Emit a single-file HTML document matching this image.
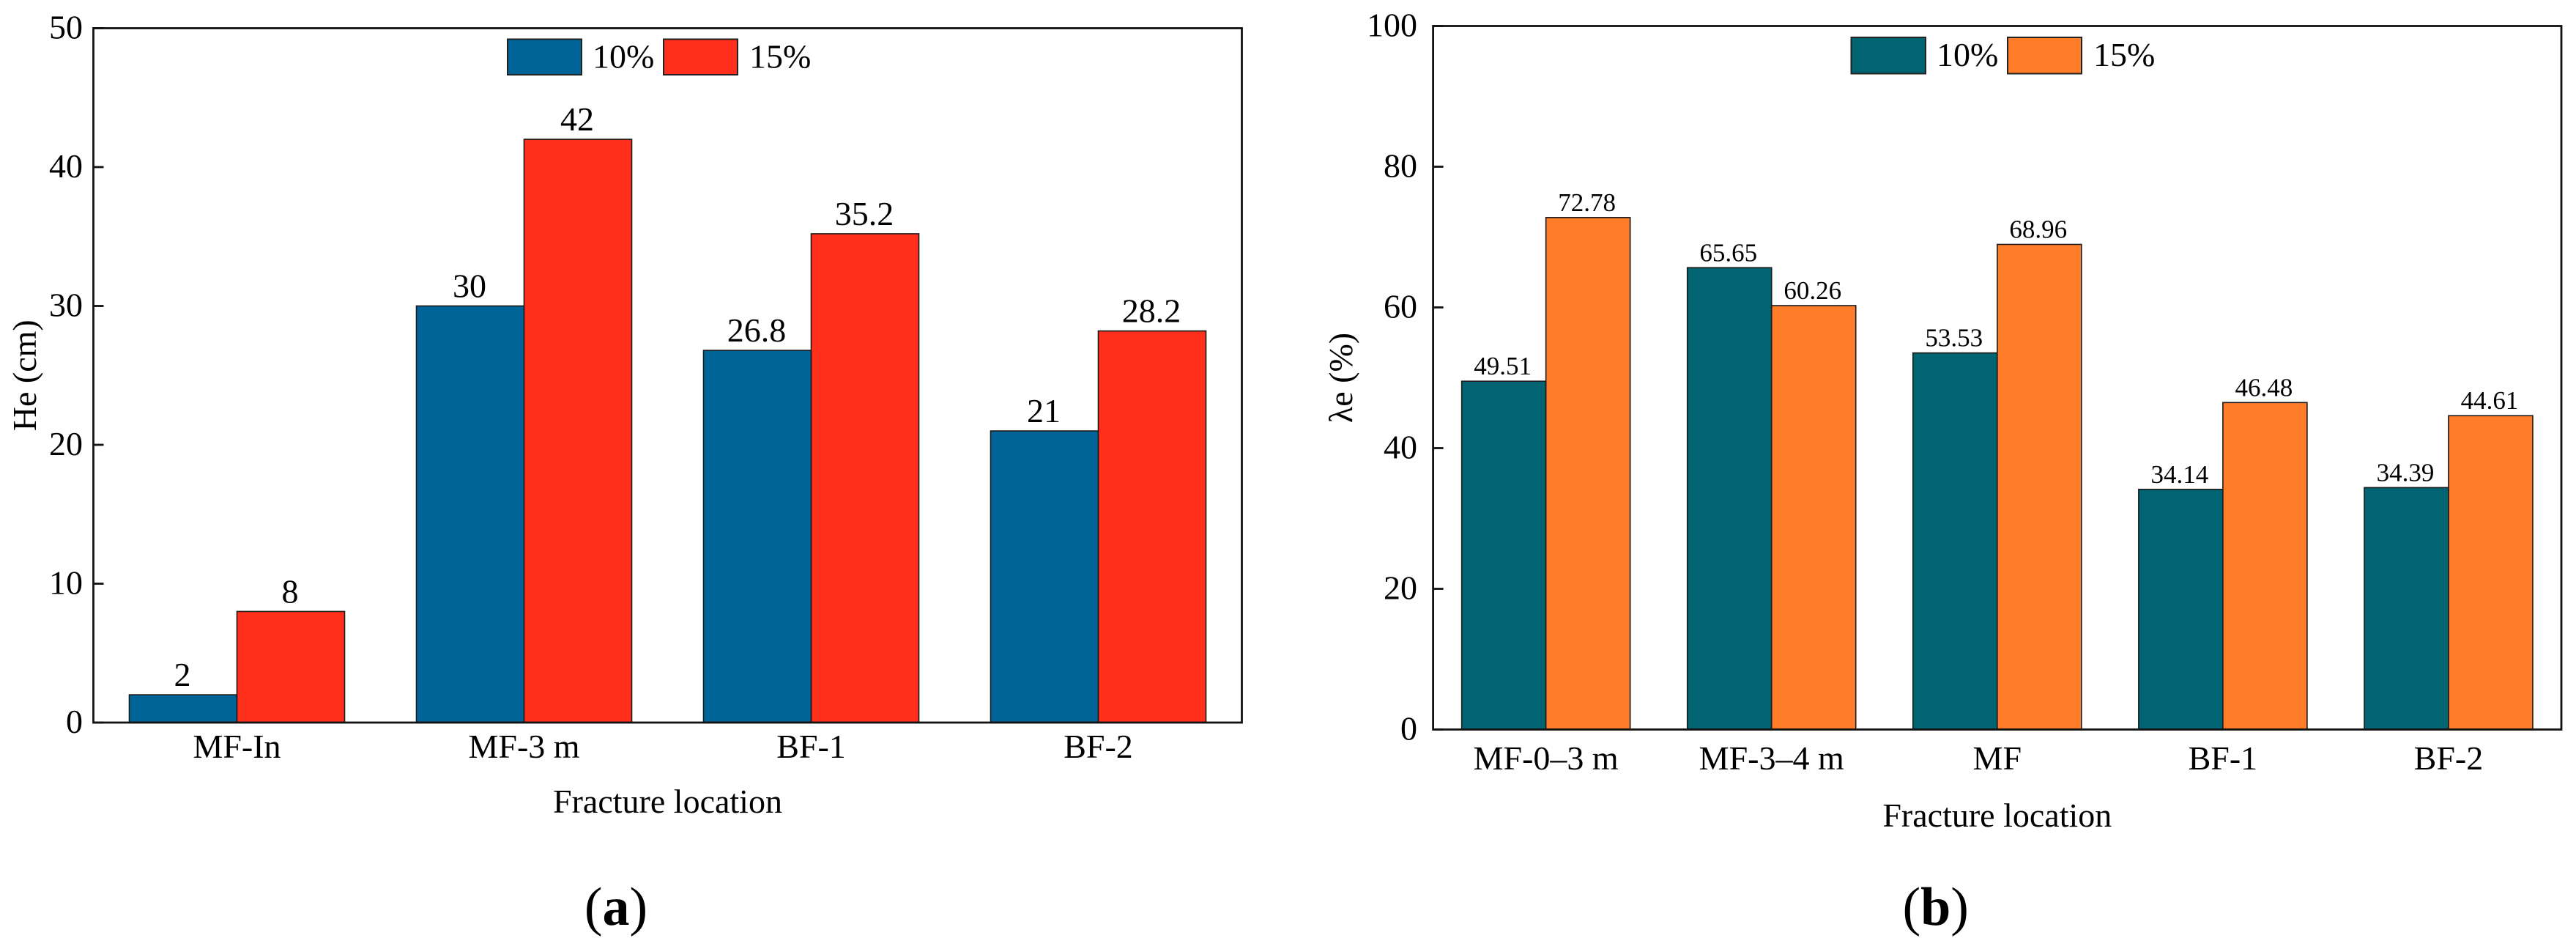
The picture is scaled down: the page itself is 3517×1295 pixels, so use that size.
<!DOCTYPE html>
<html lang="en">
<head>
<meta charset="utf-8">
<title>Fracture location bar charts</title>
<style>
  html, body { margin: 0; padding: 0; background: #fff; }
  svg { display: block; }
  text { font-family: "Liberation Serif", "Times New Roman", serif; fill: #000; }
</style>
</head>
<body>
<svg id="figure" xmlns="http://www.w3.org/2000/svg" width="3517" height="1295" viewBox="0 0 3517 1295"></svg>
<script>
// Panel (a) data
const aCategories = ["MF-In", "MF-3 m", "BF-1", "BF-2"];
const aValues10 = [2, 30, 26.8, 21];
const aValues15 = [8, 42, 35.2, 28.2];
const aLabels10 = ["2", "30", "26.8", "21"];
const aLabels15 = ["8", "42", "35.2", "28.2"];
const aTicks = [0, 10, 20, 30, 40, 50];

// Panel (b) data
const bCategories = ["MF-0–3 m", "MF-3–4 m", "MF", "BF-1", "BF-2"];
const bValues10 = [49.51, 65.65, 53.53, 34.14, 34.39];
const bValues15 = [72.78, 60.26, 68.96, 46.48, 44.61];
const bLabels10 = ["49.51", "65.65", "53.53", "34.14", "34.39"];
const bLabels15 = ["72.78", "60.26", "68.96", "46.48", "44.61"];
const bTicks = [0, 20, 40, 60, 80, 100];

const NS = "http://www.w3.org/2000/svg";
const fig = document.getElementById("figure");

function make(parent, tag, attrs, content) {
  const el = document.createElementNS(NS, tag);
  for (const k in attrs) el.setAttribute(k, attrs[k]);
  if (content !== undefined) el.textContent = content;
  parent.appendChild(el);
  return el;
}

function drawPanel(cfg) {
  const g = make(fig, "g", {});
  
  

  const xBand = (i) => cfg.left + (i + 0.5) * (cfg.right - cfg.left) / cfg.categories.length;
  const yAt = (v) => cfg.bottom - (v - cfg.yMin) / (cfg.yMax - cfg.yMin) * (cfg.bottom - cfg.top);

  // Bars and value labels
  [cfg.series10, cfg.series15].forEach((series, s) => {
    series.forEach((v, i) => {
      const cx = xBand(i);
      const x0 = s === 0 ? cx - cfg.barW : cx;
      const y = yAt(v);
      const bar = make(g, "rect", {
        x: x0, y: y, width: cfg.barW, height: cfg.bottom - y,
        fill: cfg.colors[s], stroke: "#1a1a1a", "stroke-width": 1.6
      });
      
      
      const label = make(g, "text", {
        x: x0 + cfg.barW / 2 + cfg.valueDx, y: y - cfg.valueGap,
        "font-size": cfg.valueSize, "text-anchor": "middle"
      }, cfg.labels[s][i]);
      
      
    });
  });

  // Plot frame
  const frame = make(g, "rect", {
    x: cfg.left, y: cfg.top, width: cfg.right - cfg.left, height: cfg.bottom - cfg.top,
    fill: "none", stroke: "#111", "stroke-width": 2.8
  });
  
  

  // Y ticks
  cfg.ticks.forEach((t) => {
    const y = yAt(t);
    const tick = make(g, "line", {
      x1: cfg.left, x2: cfg.left + 14, y1: y, y2: y, stroke: "#111", "stroke-width": 2.8
    });
    
    
    const tl = make(g, "text", {
      x: cfg.tickRight, y: y + 14, "font-size": cfg.tickSize, "text-anchor": "end"
    }, String(t));
    
    
  });

  // Category labels
  cfg.categories.forEach((c, i) => {
    const cl = make(g, "text", {
      x: xBand(i), y: cfg.catBaseline, "font-size": cfg.catSize, "text-anchor": "middle"
    }, c);
    
    
  });

  // Axis titles
  const xt = make(g, "text", {
    x: (cfg.left + cfg.right) / 2, y: cfg.xTitleBaseline, "font-size": cfg.titleSize, "text-anchor": "middle"
  }, "Fracture location");
  
  

  const yMid = (cfg.top + cfg.bottom) / 2;
  const yt = make(g, "text", {
    x: cfg.yTitleX, y: yMid, "font-size": cfg.titleSize, "text-anchor": "middle",
    transform: "rotate(-90 " + cfg.yTitleX + " " + yMid + ")"
  }, cfg.yTitle);
  
  

  // Legend
  cfg.legend.forEach((name, s) => {
    const sw = make(g, "rect", {
      x: cfg.legendX[s], y: cfg.legendY, width: cfg.legendW[s], height: cfg.legendH,
      fill: cfg.colors[s], stroke: "#222", "stroke-width": 2
    });
    
    
    const lt = make(g, "text", {
      x: cfg.legendTextX[s], y: cfg.legendBaseline, "font-size": cfg.legendSize
    }, name);
    
    
  });

  // Panel caption
  const cap = make(g, "text", {
    x: cfg.captionX, y: 1262, "font-size": 74, "text-anchor": "middle"
  });
  
  
  make(cap, "tspan", {}, "(");
  make(cap, "tspan", { "font-weight": "bold" }, cfg.id);
  make(cap, "tspan", {}, ")");
}

drawPanel({
  id: "a",
  categories: aCategories, series10: aValues10, series15: aValues15,
  labels: [aLabels10, aLabels15], ticks: aTicks,
  yMin: 0, yMax: 50,
  left: 127.5, right: 1695.5, top: 38.5, bottom: 986,
  barW: 147, colors: ["#006498", "#ff2f1c"],
  valueSize: 46, valueGap: 12, valueDx: -1,
  tickSize: 46, tickRight: 113,
  catSize: 46, catBaseline: 1034,
  titleSize: 46, xTitleBaseline: 1109,
  yTitle: "He (cm)", yTitleX: 49,
  legend: ["10%", "15%"],
  legendX: [693, 906], legendW: [101, 101], legendY: 53.5, legendH: 48.5,
  legendTextX: [809, 1023], legendBaseline: 92.7, legendSize: 46,
  captionX: 841
});

drawPanel({
  id: "b",
  categories: bCategories, series10: bValues10, series15: bValues15,
  labels: [bLabels10, bLabels15], ticks: bTicks,
  yMin: 0, yMax: 100,
  left: 1956.6, right: 3497, top: 35.5, bottom: 995.5,
  barW: 115, colors: ["#006472", "#ff7c28"],
  valueSize: 35, valueGap: 9, valueDx: -1.5,
  tickSize: 46, tickRight: 1935,
  catSize: 46, catBaseline: 1050,
  titleSize: 46, xTitleBaseline: 1128,
  yTitle: "λe (%)", yTitleX: 1846,
  legend: ["10%", "15%"],
  legendX: [2527.5, 2741], legendW: [101.5, 101], legendY: 51, legendH: 49.5,
  legendTextX: [2644, 2858], legendBaseline: 90, legendSize: 46,
  captionX: 2642.7
});
</script>
</body>
</html>
